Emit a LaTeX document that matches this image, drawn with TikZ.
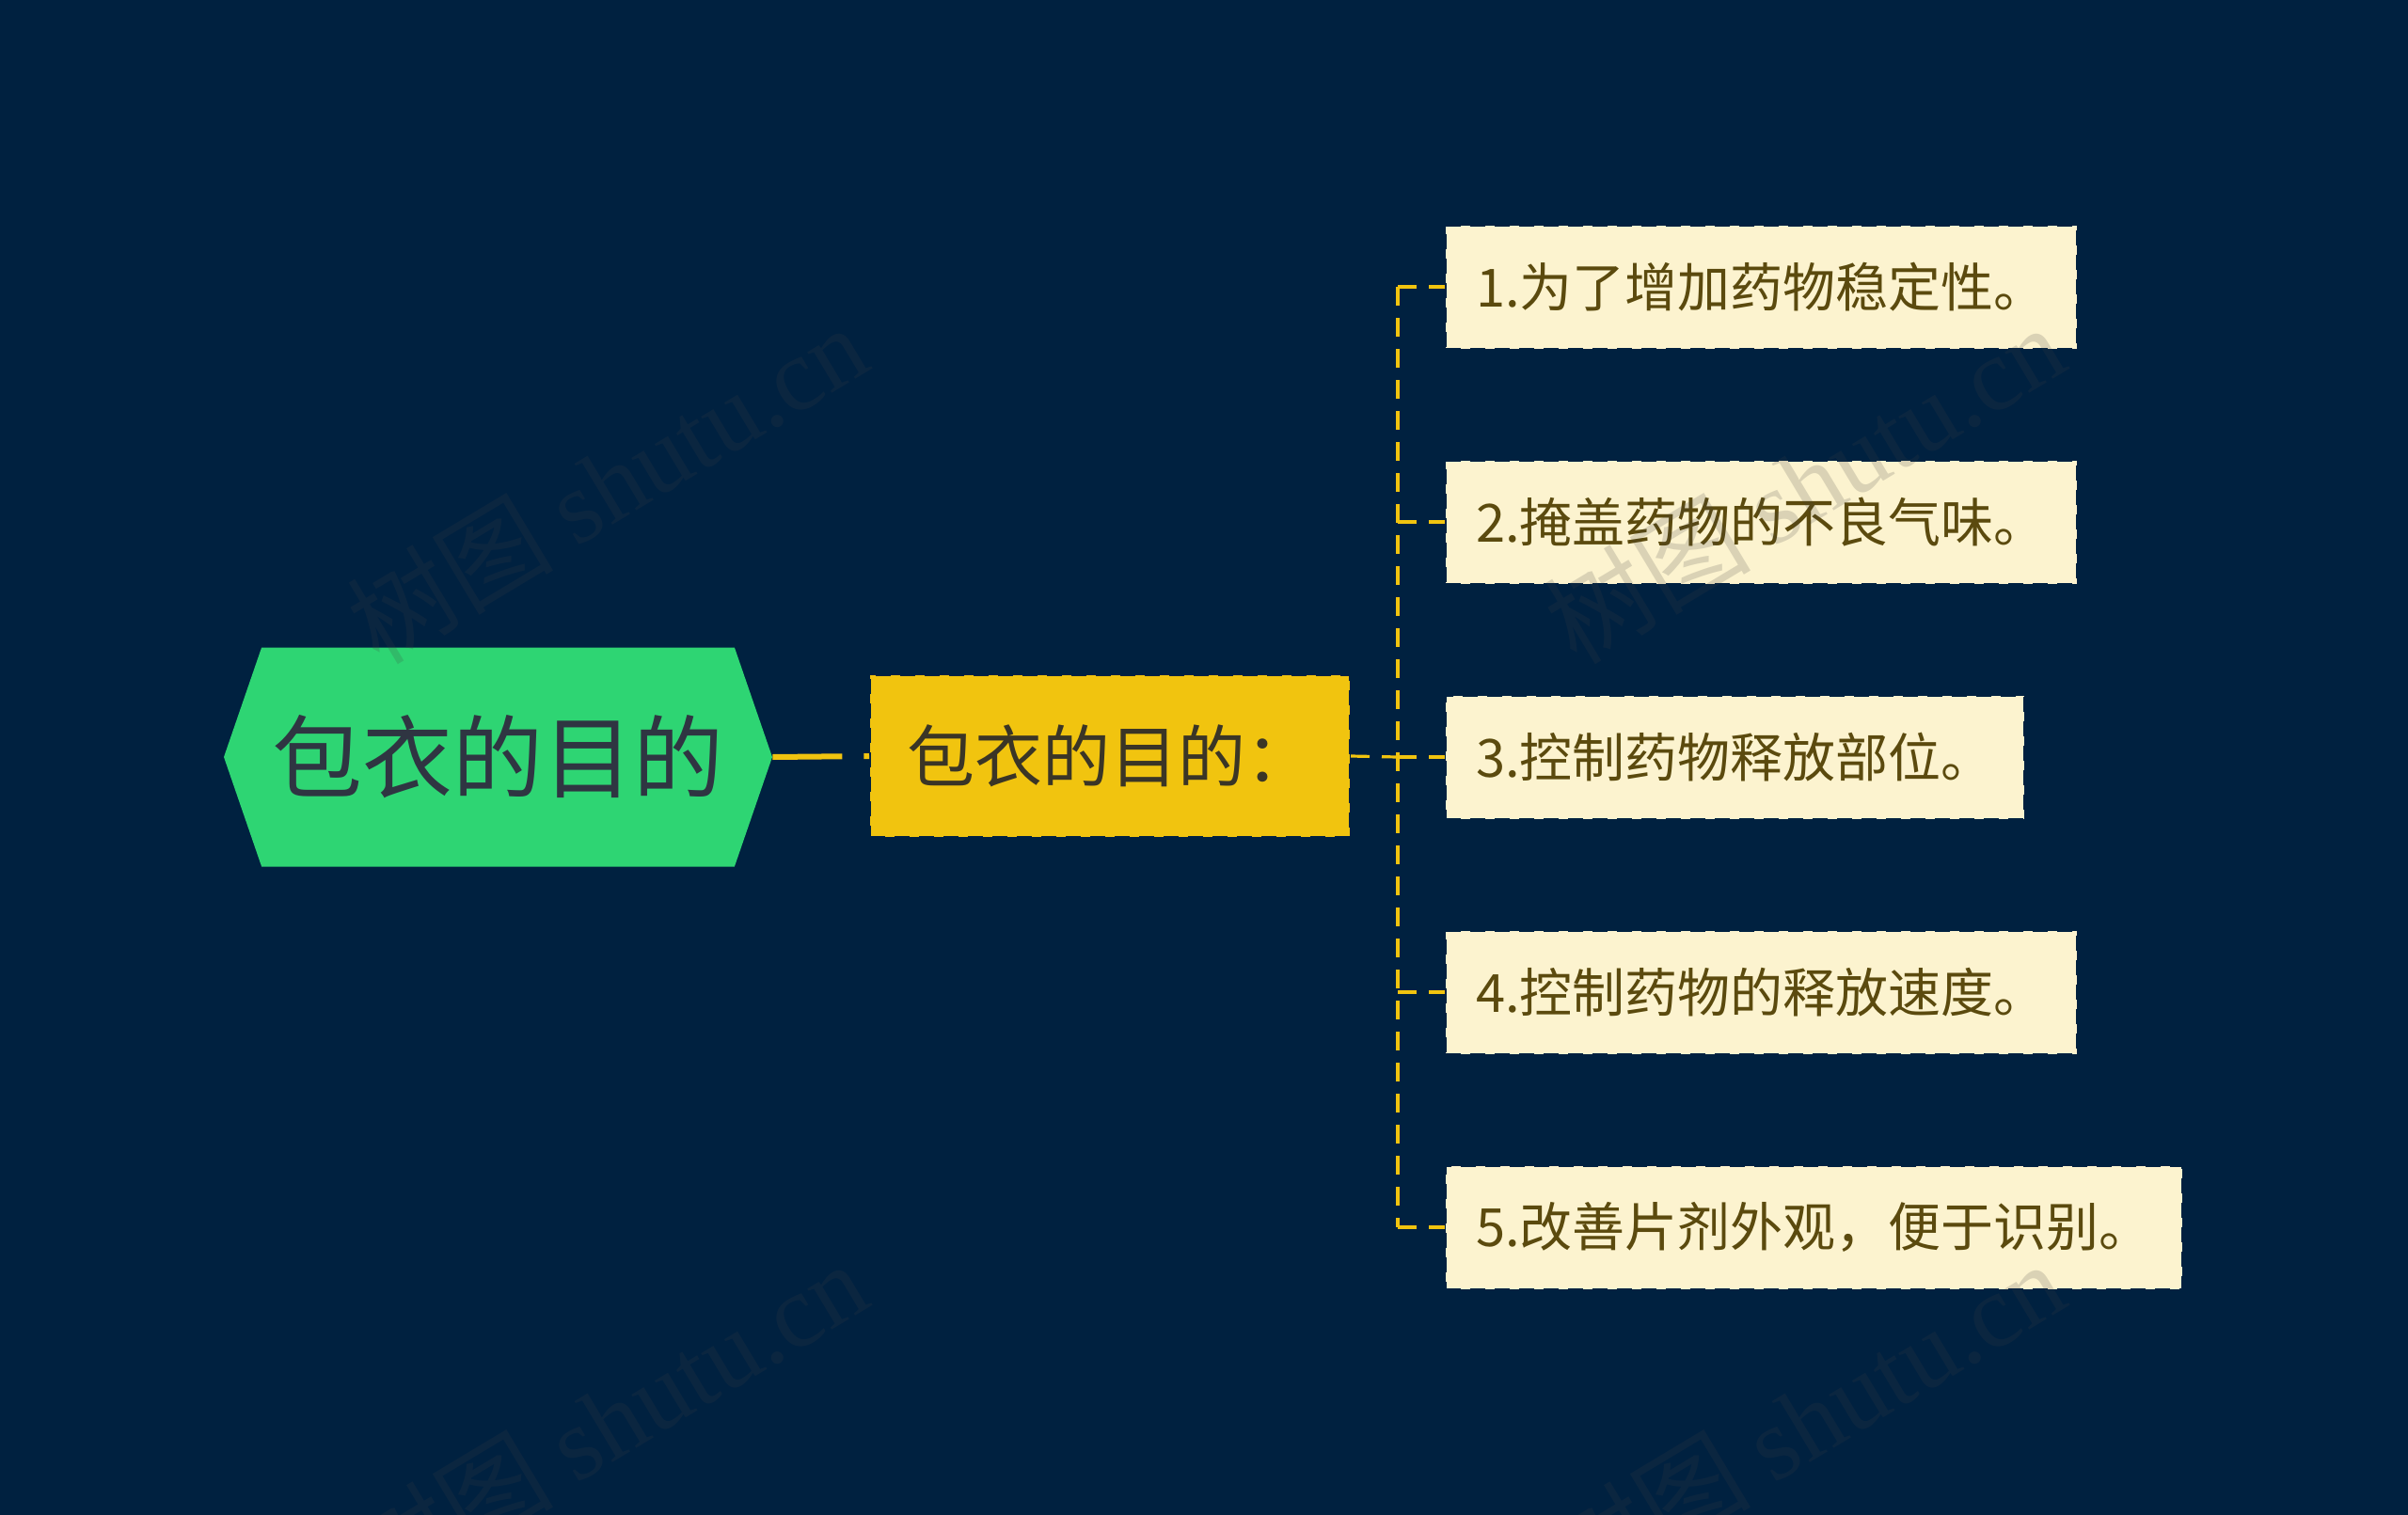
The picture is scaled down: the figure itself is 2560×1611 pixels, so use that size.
\documentclass[tikz,border=0pt]{standalone}
\usepackage{fontspec}
\setmainfont{Noto Sans CJK SC}
\newfontfamily\wmserif{Liberation Serif}
\usetikzlibrary{shapes.symbols}

\definecolor{bgnavy}{HTML}{002140}
\definecolor{rootgreen}{HTML}{2ED573}
\definecolor{rootink}{HTML}{2F3542}
\definecolor{aimyellow}{HTML}{F1C40F}
\definecolor{aimink}{HTML}{3A3526}
\definecolor{leafcream}{HTML}{FCF3CF}
\definecolor{leafink}{HTML}{5B4A0E}
\definecolor{wmgray}{HTML}{404040}

\tikzset{
  rootnode/.style={shape=signal,signal to=west and east,signal pointer angle=142,
    fill=rootgreen,text=rootink,minimum width=291.5pt,minimum height=116.5pt,
    inner sep=0pt,font=\fontsize{48pt}{48pt}\selectfont},
  aimnode/.style={fill=aimyellow,text=aimink,draw=bgnavy,line width=1pt,
    dash pattern=on 8pt off 5pt,minimum height=86pt,inner xsep=19.5pt,
    font=\fontsize{36pt}{36pt}\selectfont},
  leafnode/.style={fill=leafcream,text=leafink,draw=bgnavy,line width=1pt,
    dash pattern=on 8pt off 5pt,minimum height=65.5pt,inner xsep=16pt,anchor=west,
    font=\fontsize{28pt}{28pt}\selectfont},
  link/.style={draw=aimyellow,line width=1.6pt,dash pattern=on 10pt off 6.5pt},
  wmark/.style={text=wmgray,opacity=0.18,rotate=31,font=\fontsize{55pt}{55pt}\selectfont}
}

\begin{document}
\begin{tikzpicture}[x=0.5pt,y=-0.5pt]
\fill[bgnavy] (0,0) rectangle (2560,1611);
\useasboundingbox (0,0) rectangle (2560,1611);

\node[rootnode] (root) at (529.5,805) {包衣的目的};
\node[aimnode,anchor=west] (aims) at (924,804) {包衣的目的：};

\node[leafnode] (aim1) at (1536,305) {1.为了增加药物稳定性。};
\node[leafnode] (aim2) at (1536,555) {2.掩盖药物的不良气味。};
\node[leafnode] (aim3) at (1536,805) {3.控制药物释放部位。};
\node[leafnode] (aim4) at (1536,1055) {4.控制药物的释放速度。};
\node[leafnode] (aim5) at (1536,1305) {5.改善片剂外观，便于识别。};

% connectors
\coordinate (fork) at (1486,805);
\draw[aimyellow,line width=3pt,dash pattern=on 37pt off 11.5pt] (root.east) -- (aims.west);
\draw[link] (aims.east) -- (fork);
\draw[link] (fork |- aim1.west) -- (fork |- aim5.west);
\foreach \i in {1,...,5}
  \draw[link] (fork |- aim\i.west) -- (aim\i.west);

% watermarks
\node[wmark] (wm1) at (645,514) {树图 {\wmserif shutu.cn}};
\node[wmark] (wm2) at (1918,514) {树图 {\wmserif shutu.cn}};
\node[wmark] (wm3) at (645,1510) {树图 {\wmserif shutu.cn}};
\node[wmark] (wm4) at (1918,1510) {树图 {\wmserif shutu.cn}};
\end{tikzpicture}
\end{document}
